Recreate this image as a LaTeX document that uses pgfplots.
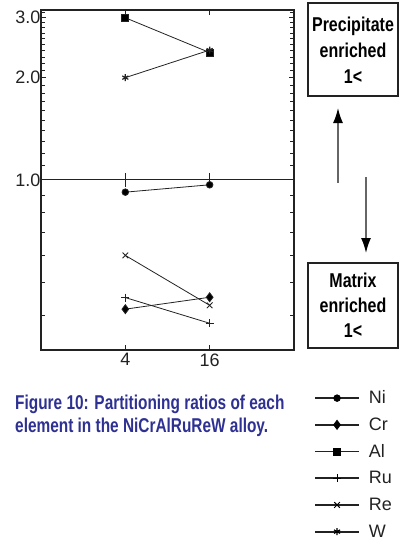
\documentclass[border=0pt]{standalone}
\usepackage{pgfplots}
\pgfplotsset{compat=1.18}
\usepackage{fontspec}
\setmainfont{Liberation Sans}
\newfontfamily\condbold[FakeStretch=0.80]{Liberation Sans}
\newfontfamily\capfont[FakeStretch=0.77]{Liberation Sans}
\newcommand\tlf{\fontsize{18}{18}\selectfont}
\usetikzlibrary{arrows.meta}
\definecolor{capblue}{HTML}{2E3192}
\definecolor{ink}{HTML}{222222}

\begin{document}
\begin{tikzpicture}[x=1pt,y=1pt]
\useasboundingbox (0,0) rectangle (404,-541);

\begin{axis}[
  at={(41pt,-350pt)}, anchor=south west,
  scale only axis, width=253pt, height=340pt,
  xmin=0, xmax=3,
  ymode=log, ymin=0.3162, ymax=3.162,
  xtick={1,2}, xticklabels={{\tlf 4},{\tlf 16}},
  ytick={1,2,3}, yticklabels={{\tlf 1.0},{\tlf 2.0},{\tlf 3.0}},
  minor ytick={0.4,0.5,0.6,0.7,0.8,0.9,1.1,1.2,1.3,1.4,1.5,1.6,1.7,1.8,1.9,2.1,2.2,2.3,2.4,2.5,2.6,2.7,2.8,2.9,3.1},
  tick align=inside,
  major tick length=5pt, minor tick length=4pt,
  axis line style={line width=1.3pt, color=ink},
  major tick style={line width=1pt, color=ink},
  minor tick style={line width=1pt, color=ink},
  xticklabel style={text=ink},
  yticklabel style={text=ink, inner sep=0.5pt},
  /pgf/number format/assume math mode=true,
  clip=false,
  legend style={draw=none, fill=none, at={(1.067,-0.113)}, anchor=north west,
    font=\fontsize{18}{18}\selectfont, text=ink,
    nodes={inner sep=0pt, text height=13pt, text depth=0pt},
    row sep=13.7pt, column sep=9pt},
  legend cell align=left,
  legend image code/.code={%
    \draw[line width=1.8pt, color=ink, solid] (0pt,-1pt) -- (44pt,-1pt);
    \draw[only marks, color=black] plot coordinates {(22pt,-1pt)};},
]
% reference line at a ratio of 1
\addplot[forget plot, line width=1pt, color=ink] coordinates {(0,1) (3,1)};
\addplot[forget plot, only marks, mark=|, mark size=7pt, line width=1pt, color=ink] coordinates {(1,1) (2,1)};

% partitioning ratios
\addplot[line width=0.8pt, color=ink, mark=*, mark size=3.3pt, mark options={fill=black}]
  coordinates {(1,0.921) (2,0.968)};
\addlegendentry{Ni}
\addplot[line width=0.8pt, color=ink, mark=diamond*, mark size=4.5pt, mark options={fill=black}]
  coordinates {(1,0.417) (2,0.452)};
\addlegendentry{Cr}
\addplot[line width=0.8pt, color=ink, mark=square*, mark size=3.5pt, mark options={fill=black}]
  coordinates {(1,3.0) (2,2.37)};
\addlegendentry{Al}
\addplot[line width=0.8pt, color=ink, mark=+, mark size=4pt, mark options={line width=1pt}]
  coordinates {(1,0.451) (2,0.379)};
\addlegendentry{Ru}
\addplot[line width=0.8pt, color=ink, mark=x, mark size=4pt, mark options={line width=0.9pt}]
  coordinates {(1,0.600) (2,0.428)};
\addlegendentry{Re}
\addplot[line width=0.8pt, color=ink, mark=asterisk, mark size=3.5pt, mark options={line width=1.2pt}]
  coordinates {(1,2.0) (2,2.41)};
\addlegendentry{W}
\end{axis}

% side boxes and arrows
\draw[line width=1.2pt, color=ink] (308,-3) rectangle (398,-96);
\node[anchor=base, font=\condbold\bfseries\fontsize{20}{20}\selectfont] at (353,-31) {Precipitate};
\node[anchor=base, font=\condbold\bfseries\fontsize{20}{20}\selectfont] at (353,-57) {enriched};
\node[anchor=base, font=\condbold\bfseries\fontsize{20}{20}\selectfont] at (353,-83) {1<};

\draw[line width=1.2pt, color=ink] (308,-263) rectangle (398,-348);
\node[anchor=base, font=\condbold\bfseries\fontsize{20}{20}\selectfont] at (353,-287) {Matrix};
\node[anchor=base, font=\condbold\bfseries\fontsize{20}{20}\selectfont] at (353,-312) {enriched};
\node[anchor=base, font=\condbold\bfseries\fontsize{20}{20}\selectfont] at (353,-337) {1<};

\draw[line width=1.5pt, color=black!60, -{Latex[length=15pt,width=10pt,black]}] (338,-183) -- (338,-108);
\draw[line width=1.5pt, color=black!60, -{Latex[length=15pt,width=10pt,black]}] (366,-177) -- (366,-253);

% caption
\node[anchor=base west, text=capblue, font=\capfont\bfseries\fontsize{20}{20}\selectfont, inner sep=0pt] at (15,-409) {Figure 10: Partitioning ratios of each};
\node[anchor=base west, text=capblue, font=\capfont\bfseries\fontsize{20}{20}\selectfont, inner sep=0pt] at (15,-432) {element in the NiCrAlRuReW alloy.};
\end{tikzpicture}
\end{document}
